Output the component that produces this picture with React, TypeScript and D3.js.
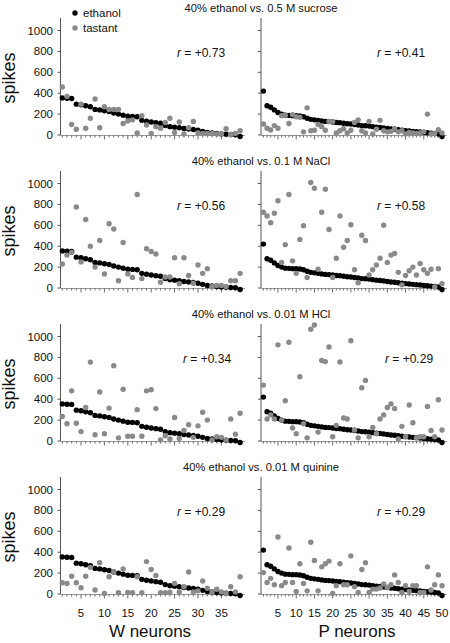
import React from "react";
import * as d3 from "d3";

// Ethanol responses (sorted), shared across rows
const W_ETHANOL = [355, 352, 350, 295, 290, 280, 270, 245, 240, 232, 225, 210, 200, 190, 180, 178, 175, 140, 132, 125, 118, 112, 90, 80, 75, 70, 62, 58, 52, 45, 35, 25, 20, 15, 10, 8, 5, 2, -15];
const P_ETHANOL = [420, 280, 265, 240, 215, 200, 190, 188, 185, 185, 182, 175, 160, 150, 145, 140, 135, 130, 128, 125, 120, 118, 112, 108, 105, 100, 95, 90, 88, 85, 80, 75, 72, 68, 62, 58, 55, 50, 45, 42, 38, 35, 32, 28, 25, 22, 18, 15, 10, -15];

// Tastant responses
const W_SUCROSE = [460, 370, 100, 55, 295, 65, 160, 345, 70, 270, 245, 245, 245, 110, 135, 145, 20, 185, 95, 15, 80, 65, 120, 160, 25, 125, 10, 70, 130, 20, 15, 15, 15, 10, 10, 60, 5, 15, 40];
const P_SUCROSE = [105, 65, 48, 90, 65, 185, 190, 110, 195, 175, 170, 30, 260, 40, 45, 100, 80, 45, 130, 130, 20, 40, 60, 20, 45, 120, 145, 40, 20, 130, 10, 55, 140, 40, 30, 35, 60, 30, 40, 10, 25, 20, 15, 20, 30, 200, 10, 15, 50, 20];
const W_NACL = [230, 315, 340, 775, 250, 655, 400, 200, 455, 135, 615, 565, 70, 435, 135, 100, 895, 90, 375, 350, 325, 55, 105, 105, 290, 40, 290, 120, 45, 220, 140, 185, 15, 25, 25, 15, 70, 70, 140];
const P_NACL = [725, 690, 625, 715, 835, 245, 415, 895, 260, 140, 465, 595, 100, 1010, 955, 180, 725, 945, 560, 100, 285, 690, 390, 455, 605, 175, 50, 505, 455, 125, 175, 220, 285, 600, 245, 315, 330, 150, 30, 120, 165, 200, 125, 235, 175, 140, 180, 10, 185, 40];
const W_HCL = [235, 165, 480, 170, 90, 320, 755, 60, 470, 70, 315, 720, 30, 495, 45, 45, 300, 45, 480, 490, 310, 10, 50, 20, 225, 25, 100, 155, 35, 145, 275, 200, 10, 40, 35, 10, 210, 65, 265];
const P_HCL = [535, 210, 250, 210, 920, 200, 385, 945, 125, 70, 615, 165, 30, 1070, 1110, 85, 770, 760, 900, 40, 150, 757, 220, 210, 960, 105, 30, 510, 580, 40, 130, 70, 210, 250, 320, 355, 310, 20, 140, 40, 345, 175, 30, 40, 40, 330, 100, 40, 395, 105];
const W_QUININE = [108, 100, 170, 108, 60, 170, 255, 38, 300, 5, 165, 210, 12, 240, 15, 12, 165, 12, 310, 235, 178, 12, 12, 18, 100, 20, 70, 210, 20, 30, 125, 55, 20, 45, 20, 5, 70, 20, 165];
const P_QUININE = [205, 110, 150, 88, 545, 80, 110, 440, 110, 25, 290, 100, 30, 495, 320, 30, 260, 290, 315, 5, 80, 290, 88, 88, 365, 70, 15, 235, 300, 15, 47, 47, 57, 95, 63, 88, 183, 110, 15, 80, 25, 80, 80, 15, 15, 260, 38, 88, 183, 80];

const TITLES = [
  "40% ethanol vs. 0.5 M sucrose",
  "40% ethanol vs. 0.1 M NaCl",
  "40% ethanol vs. 0.01 M HCl",
  "40% ethanol vs. 0.01 M quinine",
];
const W_TASTANT = [W_SUCROSE, W_NACL, W_HCL, W_QUININE];
const P_TASTANT = [P_SUCROSE, P_NACL, P_HCL, P_QUININE];
const R_W = ["+0.73", "+0.56", "+0.34", "+0.29"];
const R_P = ["+0.41", "+0.58", "+0.29", "+0.29"];
const Y_TICKS = [0, 200, 400, 600, 800, 1000];
const W_TICKS = [5, 10, 15, 20, 25, 30, 35];
const P_TICKS = [5, 10, 15, 20, 25, 30, 35, 40, 45, 50];

const FONT = "'Liberation Sans', Arial, Helvetica, sans-serif";
const GRAY = "#8a8a8a";

export default function App() {
  const rowZero = [135, 288, 441, 594];
  const rLeftX = [177, 177, 183, 177];
  const rRightX = [377, 377, 385, 377];
  const xW = d3.scaleLinear().domain([1, W_ETHANOL.length]).range([62.3, 240.1]);
  const xP = d3.scaleLinear().domain([1, P_ETHANOL.length]).range([263.4, 442]);
  const r = 2.7;

  const panel = (
    key: string,
    x: d3.ScaleLinear<number, number>,
    y: d3.ScaleLinear<number, number>,
    eth: number[],
    tas: number[],
    axisX: number,
    axisEnd: number,
    labels: boolean,
    tickLabels: number[] | null
  ) => {
    const n = eth.length;
    const y0 = y(0);
    return (
      <g key={key}>
        {/* y axis */}
        <line x1={axisX} x2={axisX} y1={y(1120)} y2={y0} stroke="#555" strokeWidth={1} />
        {Y_TICKS.map((t) => (
          <g key={t}>
            <line x1={axisX - 3} x2={axisX} y1={y(t)} y2={y(t)} stroke="#555" strokeWidth={1} />
            {labels && (
              <text x={53} y={y(t)} dy="0.35em" textAnchor="end" fontSize={11.5} fontFamily={FONT} fill="#111">
                {t}
              </text>
            )}
          </g>
        ))}
        {/* x axis */}
        <line x1={axisX} x2={axisEnd} y1={y0 + 0.5} y2={y0 + 0.5} stroke="#999" strokeWidth={1} />
        {d3.range(1, n + 1).map((i) => (
          <line key={i} x1={x(i)} x2={x(i)} y1={y0 + 0.5} y2={y0 + (i % 5 === 0 ? 4.5 : 2.5)} stroke="#444" strokeWidth={0.8} />
        ))}
        {tickLabels &&
          tickLabels.map((t) => (
            <text key={t} x={x(t)} y={y0 + 23} textAnchor="middle" fontSize={11.5} fontFamily={FONT} fill="#111">
              {t}
            </text>
          ))}
        {/* ethanol */}
        {eth.map((v, i) => (
          <circle key={"e" + i} cx={x(i + 1)} cy={y(v)} r={r} fill="#000" />
        ))}
        {/* tastant */}
        {tas.map((v, i) => (
          <circle key={"t" + i} cx={x(i + 1)} cy={y(v)} r={r} fill={GRAY} />
        ))}
      </g>
    );
  };

  return (
    <svg width={450} height={643} style={{ position: "absolute", left: 0, top: 0, background: "#fff" }}>
      {rowZero.map((z, row) => {
        const y = d3.scaleLinear().domain([0, 1000]).range([z, z - 104.5]);
        const last = row === rowZero.length - 1;
        return (
          <g key={row}>
            <text x={261} y={z - 123} textAnchor="middle" fontSize={11.2} fontFamily={FONT} fill="#111">
              {TITLES[row]}
            </text>
            <text transform={`translate(15,${z - 57}) rotate(-90)`} textAnchor="middle" fontSize={18} fontFamily={FONT} fill="#111">
              spikes
            </text>
            {panel("w" + row, xW, y, W_ETHANOL, W_TASTANT[row], 60.5, 245, true, last ? W_TICKS : null)}
            {panel("p" + row, xP, y, P_ETHANOL, P_TASTANT[row], 261, 447, false, last ? P_TICKS : null)}
            <text x={rLeftX[row]} y={z - 78} fontSize={12} fontFamily={FONT} fill="#111">
              <tspan fontStyle="italic">r</tspan> = {R_W[row]}
            </text>
            <text x={rRightX[row]} y={z - 78} fontSize={12} fontFamily={FONT} fill="#111">
              <tspan fontStyle="italic">r</tspan> = {R_P[row]}
            </text>
          </g>
        );
      })}
      {/* legend */}
      <circle cx={75} cy={13} r={r} fill="#000" />
      <text x={83} y={17} fontSize={11.5} fontFamily={FONT} fill="#111">ethanol</text>
      <circle cx={75} cy={28} r={r} fill={GRAY} />
      <text x={83} y={32} fontSize={11.5} fontFamily={FONT} fill="#111">tastant</text>
      {/* axis titles */}
      <text x={150} y={637} textAnchor="middle" fontSize={17} fontFamily={FONT} fill="#111">W neurons</text>
      <text x={357} y={637} textAnchor="middle" fontSize={17} fontFamily={FONT} fill="#111">P neurons</text>
    </svg>
  );
}
